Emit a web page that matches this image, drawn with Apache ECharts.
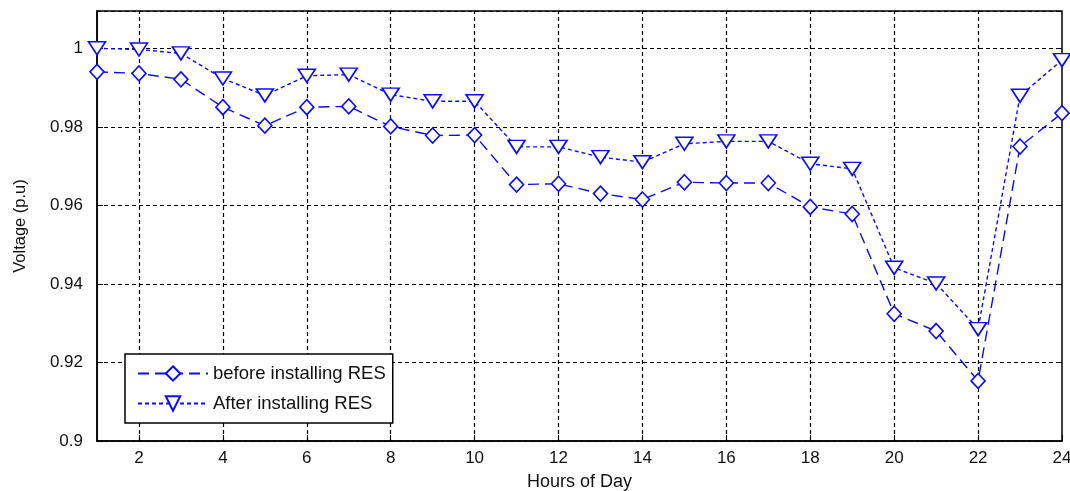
<!DOCTYPE html>
<html>
<head>
<meta charset="utf-8">
<script src="https://cdn.jsdelivr.net/npm/echarts@6/dist/echarts.min.js"></script>
<style>html,body{margin:0;padding:0;background:#fff;}#c{width:1070px;height:491px;}</style>
</head>
<body>
<div id="c"></div>
<script>
const hours = [1,2,3,4,5,6,7,8,9,10,11,12,13,14,15,16,17,18,19,20,21,22,23,24];
const beforeRES = [0.9940,0.9936,0.9921,0.9850,0.9803,0.9850,0.9852,0.9801,0.9778,0.9779,0.9653,0.9655,0.9630,0.9615,0.9659,0.9657,0.9657,0.9596,0.9578,0.9324,0.9280,0.9153,0.9750,0.9835];
const afterRES = [1.0000,0.9997,0.9987,0.9923,0.9880,0.9930,0.9933,0.9882,0.9865,0.9865,0.9749,0.9749,0.9723,0.9710,0.9757,0.9763,0.9763,0.9706,0.9693,0.9441,0.9401,0.9285,0.9879,0.9970];
const xTicks = [2,4,6,8,10,12,14,16,18,20,22,24];
const seriesNames = ['before installing RES','After installing RES'];
const axisNames = {x:'Hours of Day', y:'Voltage (p.u)'};

const FONT = 'Liberation Sans, Arial, sans-serif';
const BLUE = '#0a0aff';
const chart = echarts.init(document.getElementById('c'), null, {renderer:'canvas'});
const pair = (arr) => hours.map((h,i)=>[h, arr[i]]);

chart.setOption({
  animation:false,
  backgroundColor:'#fff',
  grid:{left:97,right:8,top:11,bottom:50,containLabel:false,outerBoundsMode:'none',
    show:true,borderColor:'#000',borderWidth:1.5,backgroundColor:'transparent'},
  legend:{
    orient:'vertical', left:125, top:354,
    backgroundColor:'#fff', borderColor:'#000', borderWidth:1.5,
    padding:[10,7,10,12], itemGap:11, itemWidth:70, itemHeight:18,
    textStyle:{fontFamily:FONT,fontSize:18.5,color:'#111'},
    data:seriesNames
  },
  xAxis:{
    type:'value', min:1, max:24,
    name:axisNames.x, nameLocation:'middle', nameGap:32,
    nameTextStyle:{fontFamily:FONT,fontSize:18,color:'#111'},
    axisLine:{show:true,onZero:false,lineStyle:{color:'#000',width:1.5}},
    axisTick:{show:true,inside:true,length:6,customValues:xTicks,lineStyle:{color:'#000'}},
    axisLabel:{customValues:xTicks,fontFamily:FONT,fontSize:17,color:'#111',margin:9},
    splitLine:{show:false}
  },
  yAxis:[{
    type:'value', min:0.9, max:1.0095, interval:0.02,
    name:axisNames.y, nameLocation:'middle', nameGap:68,
    nameTextStyle:{fontFamily:FONT,fontSize:16.5,color:'#111'},
    axisLine:{show:true,lineStyle:{color:'#000',width:1.5}},
    axisTick:{show:true,inside:true,length:6,lineStyle:{color:'#000'}},
    axisLabel:{fontFamily:FONT,fontSize:17,color:'#111',margin:14,showMaxLabel:false,
      formatter:(v)=>String(parseFloat(v.toFixed(2)))},
    splitLine:{show:true,lineStyle:{color:'#000',type:[4,3],width:1.2}}
  },{
    type:'value', min:0.9, max:1.0095, interval:0.02, position:'right',
    axisLine:{show:false}, axisTick:{show:true,inside:true,length:6,lineStyle:{color:'#000'}},
    axisLabel:{show:false}, splitLine:{show:false}
  }],
  series:[{
    name:seriesNames[0], type:'line', data:pair(beforeRES),
    symbol:'diamond', symbolSize:[14,15],
    itemStyle:{color:'#fff',borderColor:BLUE,borderWidth:1.6},
    lineStyle:{color:BLUE,width:1.4,type:[11,6]},
    markLine:{
      silent:true, symbol:['none','none'], label:{show:false},
      lineStyle:{color:'#000',type:[4,3],width:1.2}, z:1,
      data:xTicks.slice(0,-1).map(v=>({xAxis:v}))
    },
    z:3
  },{
    name:seriesNames[1], type:'line', data:pair(afterRES),
    symbol:'triangle', symbolRotate:180, symbolSize:[17,13],
    itemStyle:{color:'#fff',borderColor:BLUE,borderWidth:1.6},
    lineStyle:{color:BLUE,width:1.4,type:[4,3]},
    z:4
  }]
});
</script>
</body>
</html>
